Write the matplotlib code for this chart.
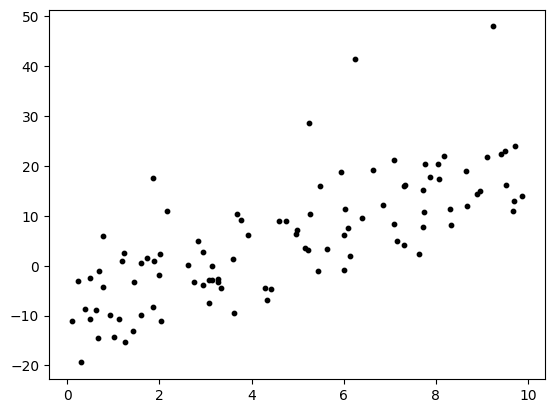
import matplotlib
matplotlib.use("Agg")
import matplotlib.pyplot as plt

x = [1.855, 2.16, 0.77, 1.22, 1.18, 1.59, 1.72, 1.88, 2.01, 1.99,
     2.61, 0.68, 0.49, 0.22, 0.77, 1.44, 0.38, 0.62, 0.49, 0.09,
     0.92, 1.12, 1.59, 1.85, 2.03, 0.66, 1.01, 1.25, 1.42, 0.29,
     5.49, 3.68, 3.77, 3.92, 4.59, 4.75, 4.98, 4.96, 5.27, 5.16,
     5.23, 5.64, 5.44, 2.83, 2.94, 3.14, 3.59, 2.75, 2.94, 3.07,
     3.14, 3.27, 3.27, 3.33, 3.07, 3.62, 4.29, 4.42, 4.33,
     5.94, 6.64, 7.09, 7.77, 8.04, 7.88, 8.07, 7.31, 7.34, 7.72,
     6.03, 6.85, 7.75, 6.39, 6.09, 6.01, 7.09, 7.72, 7.16, 7.31,
     7.64, 6.14, 6.01,
     8.18, 8.66, 9.12, 9.42, 9.51, 9.72, 9.53, 9.88, 9.70, 9.68,
     8.90, 8.96, 8.31, 8.68, 8.33,
     5.25, 6.25, 9.25]
y = [17.6, 11.0, 6.0, 2.6, 1.0, 0.6, 1.6, 1.0, 2.4, -1.8,
     0.2, -1.0, -2.4, -3.0, -4.2, -3.2, -8.6, -8.8, -10.6, -11.0,
     -9.8, -10.6, -9.8, -8.2, -11.0, -14.4, -14.2, -15.2, -13.0, -19.4,
     16.0, 10.4, 9.2, 6.2, 9.0, 9.0, 7.2, 6.4, 10.4, 3.6,
     3.2, 3.4, -1.0, 5.0, 2.8, 0.0, 1.4, -3.2, -3.8, -2.95,
     -2.8, -2.6, -3.2, -4.4, -7.4, -9.4, -4.4, -4.6, -6.8,
     18.8, 19.2, 21.2, 20.4, 20.4, 17.8, 17.4, 16.0, 16.2, 15.2,
     11.4, 12.2, 10.8, 9.6, 7.6, 6.2, 8.4, 7.8, 5.0, 4.2,
     2.4, 2.0, -0.8,
     22.0, 19.0, 21.8, 22.4, 23.0, 24.0, 16.2, 14.0, 13.0, 11.0,
     14.4, 15.0, 11.4, 12.0, 8.2,
     28.7, 41.5, 47.95]

fig, ax = plt.subplots(figsize=(6.4, 4.8), dpi=100)
ax.scatter(x, y, s=10, color="black")
fig.savefig("out.png", bbox_inches="tight")
